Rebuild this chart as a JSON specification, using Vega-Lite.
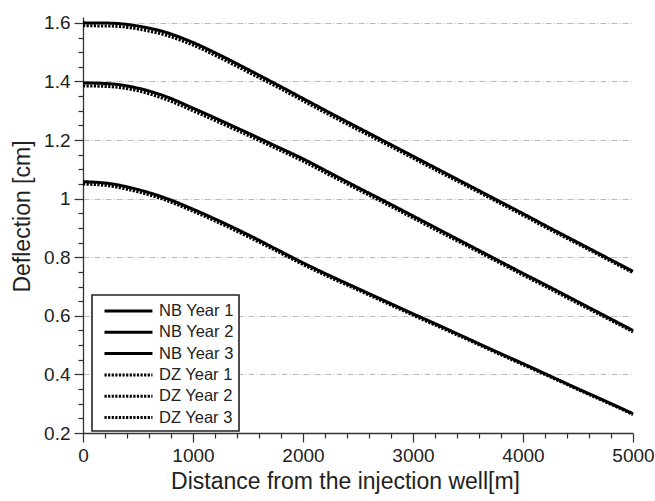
{
  "$schema": "https://vega.github.io/schema/vega-lite/v6.json",
  "autosize": {"type": "none"},
  "width": 550,
  "height": 416,
  "padding": {"left": 83, "top": 17, "right": 22, "bottom": 68},
  "background": "white",
  "config": {"view": {"stroke": null}, "font": "Liberation Sans", "legend": {"strokeColor": "#222", "strokeWidth": 1.6}},
  "data": {"values": [
    {"x":0,"y":1.600,"s":"NB Year 1"},{"x":250,"y":1.599,"s":"NB Year 1"},{"x":500,"y":1.589,"s":"NB Year 1"},{"x":750,"y":1.568,"s":"NB Year 1"},{"x":1000,"y":1.533,"s":"NB Year 1"},{"x":1250,"y":1.489,"s":"NB Year 1"},{"x":1500,"y":1.441,"s":"NB Year 1"},{"x":1750,"y":1.392,"s":"NB Year 1"},{"x":2000,"y":1.342,"s":"NB Year 1"},{"x":2250,"y":1.292,"s":"NB Year 1"},{"x":2500,"y":1.243,"s":"NB Year 1"},{"x":2750,"y":1.194,"s":"NB Year 1"},{"x":3000,"y":1.145,"s":"NB Year 1"},{"x":3250,"y":1.096,"s":"NB Year 1"},{"x":3500,"y":1.047,"s":"NB Year 1"},{"x":3750,"y":0.998,"s":"NB Year 1"},{"x":4000,"y":0.949,"s":"NB Year 1"},{"x":4250,"y":0.899,"s":"NB Year 1"},{"x":4500,"y":0.850,"s":"NB Year 1"},{"x":4750,"y":0.801,"s":"NB Year 1"},{"x":5000,"y":0.752,"s":"NB Year 1"},
    {"x":0,"y":1.395,"s":"NB Year 2"},{"x":250,"y":1.392,"s":"NB Year 2"},{"x":500,"y":1.377,"s":"NB Year 2"},{"x":750,"y":1.349,"s":"NB Year 2"},{"x":1000,"y":1.309,"s":"NB Year 2"},{"x":1250,"y":1.267,"s":"NB Year 2"},{"x":1500,"y":1.224,"s":"NB Year 2"},{"x":1750,"y":1.180,"s":"NB Year 2"},{"x":2000,"y":1.136,"s":"NB Year 2"},{"x":2250,"y":1.087,"s":"NB Year 2"},{"x":2500,"y":1.038,"s":"NB Year 2"},{"x":2750,"y":0.990,"s":"NB Year 2"},{"x":3000,"y":0.941,"s":"NB Year 2"},{"x":3250,"y":0.892,"s":"NB Year 2"},{"x":3500,"y":0.843,"s":"NB Year 2"},{"x":3750,"y":0.794,"s":"NB Year 2"},{"x":4000,"y":0.745,"s":"NB Year 2"},{"x":4250,"y":0.697,"s":"NB Year 2"},{"x":4500,"y":0.648,"s":"NB Year 2"},{"x":4750,"y":0.599,"s":"NB Year 2"},{"x":5000,"y":0.550,"s":"NB Year 2"},
    {"x":0,"y":1.058,"s":"NB Year 3"},{"x":250,"y":1.051,"s":"NB Year 3"},{"x":500,"y":1.031,"s":"NB Year 3"},{"x":750,"y":1.002,"s":"NB Year 3"},{"x":1000,"y":0.964,"s":"NB Year 3"},{"x":1250,"y":0.922,"s":"NB Year 3"},{"x":1500,"y":0.877,"s":"NB Year 3"},{"x":1750,"y":0.829,"s":"NB Year 3"},{"x":2000,"y":0.781,"s":"NB Year 3"},{"x":2250,"y":0.736,"s":"NB Year 3"},{"x":2500,"y":0.693,"s":"NB Year 3"},{"x":2750,"y":0.650,"s":"NB Year 3"},{"x":3000,"y":0.607,"s":"NB Year 3"},{"x":3250,"y":0.565,"s":"NB Year 3"},{"x":3500,"y":0.522,"s":"NB Year 3"},{"x":3750,"y":0.479,"s":"NB Year 3"},{"x":4000,"y":0.437,"s":"NB Year 3"},{"x":4250,"y":0.394,"s":"NB Year 3"},{"x":4500,"y":0.351,"s":"NB Year 3"},{"x":4750,"y":0.309,"s":"NB Year 3"},{"x":5000,"y":0.266,"s":"NB Year 3"},
    {"x":0,"y":1.590,"s":"DZ Year 1"},{"x":250,"y":1.589,"s":"DZ Year 1"},{"x":500,"y":1.579,"s":"DZ Year 1"},{"x":750,"y":1.558,"s":"DZ Year 1"},{"x":1000,"y":1.524,"s":"DZ Year 1"},{"x":1250,"y":1.480,"s":"DZ Year 1"},{"x":1500,"y":1.432,"s":"DZ Year 1"},{"x":1750,"y":1.384,"s":"DZ Year 1"},{"x":2000,"y":1.334,"s":"DZ Year 1"},{"x":2250,"y":1.284,"s":"DZ Year 1"},{"x":2500,"y":1.235,"s":"DZ Year 1"},{"x":2750,"y":1.187,"s":"DZ Year 1"},{"x":3000,"y":1.138,"s":"DZ Year 1"},{"x":3250,"y":1.089,"s":"DZ Year 1"},{"x":3500,"y":1.041,"s":"DZ Year 1"},{"x":3750,"y":0.992,"s":"DZ Year 1"},{"x":4000,"y":0.943,"s":"DZ Year 1"},{"x":4250,"y":0.893,"s":"DZ Year 1"},{"x":4500,"y":0.845,"s":"DZ Year 1"},{"x":4750,"y":0.796,"s":"DZ Year 1"},{"x":5000,"y":0.747,"s":"DZ Year 1"},
    {"x":0,"y":1.385,"s":"DZ Year 2"},{"x":250,"y":1.382,"s":"DZ Year 2"},{"x":500,"y":1.368,"s":"DZ Year 2"},{"x":750,"y":1.339,"s":"DZ Year 2"},{"x":1000,"y":1.300,"s":"DZ Year 2"},{"x":1250,"y":1.258,"s":"DZ Year 2"},{"x":1500,"y":1.216,"s":"DZ Year 2"},{"x":1750,"y":1.172,"s":"DZ Year 2"},{"x":2000,"y":1.128,"s":"DZ Year 2"},{"x":2250,"y":1.079,"s":"DZ Year 2"},{"x":2500,"y":1.031,"s":"DZ Year 2"},{"x":2750,"y":0.983,"s":"DZ Year 2"},{"x":3000,"y":0.934,"s":"DZ Year 2"},{"x":3250,"y":0.885,"s":"DZ Year 2"},{"x":3500,"y":0.837,"s":"DZ Year 2"},{"x":3750,"y":0.788,"s":"DZ Year 2"},{"x":4000,"y":0.739,"s":"DZ Year 2"},{"x":4250,"y":0.691,"s":"DZ Year 2"},{"x":4500,"y":0.642,"s":"DZ Year 2"},{"x":4750,"y":0.594,"s":"DZ Year 2"},{"x":5000,"y":0.545,"s":"DZ Year 2"},
    {"x":0,"y":1.050,"s":"DZ Year 3"},{"x":250,"y":1.043,"s":"DZ Year 3"},{"x":500,"y":1.023,"s":"DZ Year 3"},{"x":750,"y":0.995,"s":"DZ Year 3"},{"x":1000,"y":0.957,"s":"DZ Year 3"},{"x":1250,"y":0.915,"s":"DZ Year 3"},{"x":1500,"y":0.870,"s":"DZ Year 3"},{"x":1750,"y":0.823,"s":"DZ Year 3"},{"x":2000,"y":0.775,"s":"DZ Year 3"},{"x":2250,"y":0.730,"s":"DZ Year 3"},{"x":2500,"y":0.688,"s":"DZ Year 3"},{"x":2750,"y":0.645,"s":"DZ Year 3"},{"x":3000,"y":0.602,"s":"DZ Year 3"},{"x":3250,"y":0.560,"s":"DZ Year 3"},{"x":3500,"y":0.518,"s":"DZ Year 3"},{"x":3750,"y":0.475,"s":"DZ Year 3"},{"x":4000,"y":0.433,"s":"DZ Year 3"},{"x":4250,"y":0.391,"s":"DZ Year 3"},{"x":4500,"y":0.348,"s":"DZ Year 3"},{"x":4750,"y":0.306,"s":"DZ Year 3"},{"x":5000,"y":0.263,"s":"DZ Year 3"}
  ]},
  "mark": {"type": "line", "interpolate": "monotone", "strokeWidth": 3},
  "encoding": {
    "x": {"field": "x", "type": "quantitative",
      "scale": {"domain": [0, 5000], "nice": false, "zero": false},
      "axis": {
        "title": "Distance from the injection well[m]",
        "titleFont": "Liberation Sans", "titleFontSize": 23, "titleFontWeight": "normal", "titleColor": "#222", "titlePadding": 5, "titleX": 262,
        "values": [0,200,400,600,800,1000,1200,1400,1600,1800,2000,2200,2400,2600,2800,3000,3200,3400,3600,3800,4000,4200,4400,4600,4800,5000],
        "labelExpr": "datum.value % 1000 === 0 ? datum.label : ''",
        "format": "d",
        "labelOverlap": false, "labelFlush": false,
        "labelFont": "Liberation Sans", "labelFontSize": 19, "labelColor": "#222", "labelPadding": 4,
        "tickSize": {"condition": {"test": "datum.value % 1000 === 0", "value": 9}, "value": 5},
        "tickColor": "#333", "tickWidth": 1.25,
        "domainColor": "#333", "domainWidth": 1.3,
        "grid": false
      }
    },
    "y": {"field": "y", "type": "quantitative",
      "scale": {"domain": [0.2, 1.62], "nice": false, "zero": false},
      "axis": {
        "title": "Deflection [cm]",
        "titleFont": "Liberation Sans", "titleFontSize": 23, "titleFontWeight": "normal", "titleColor": "#222", "titleX": -49, "titleY": 199,
        "values": [0.2,0.25,0.3,0.35,0.4,0.45,0.5,0.55,0.6,0.65,0.7,0.75,0.8,0.85,0.9,0.95,1.0,1.05,1.1,1.15,1.2,1.25,1.3,1.35,1.4,1.45,1.5,1.55,1.6],
        "labelExpr": "round(datum.value*100) % 20 === 0 ? format(datum.value, '.1~f') : ''",
        "labelOverlap": false, "labelFlush": false,
        "labelFont": "Liberation Sans", "labelFontSize": 19, "labelColor": "#222", "labelPadding": 4,
        "tickSize": {"condition": {"test": "round(datum.value*100) % 20 === 0", "value": 9}, "value": 5},
        "tickColor": "#333", "tickWidth": 1.25,
        "domainColor": "#333", "domainWidth": 1.3,
        "grid": true,
        "gridColor": "#bbbbbb", "gridWidth": 1, "gridDash": [6, 2, 1, 2],
        "gridOpacity": {"condition": {"test": "round(datum.value*100) % 20 === 0 && datum.value > 0.3", "value": 1}, "value": 0}
      }
    },
    "color": {"field": "s", "type": "nominal",
      "scale": {"domain": ["NB Year 1","NB Year 2","NB Year 3","DZ Year 1","DZ Year 2","DZ Year 3"], "range": ["#000","#000","#000","#000","#000","#000"]},
      "legend": {
        "title": null, "orient": "none", "legendX": 9, "legendY": 278,
        "symbolType": "M-0.37,0H4.68", "symbolSize": 361, "symbolStrokeWidth": 3, "symbolFillColor": "transparent",
        "labelFont": "Liberation Sans", "labelFontSize": 16.5, "labelColor": "#222", "labelOffset": 40,
        "rowPadding": 1.3, "padding": 5,
        "fillColor": "white"
      }
    },
    "strokeDash": {"field": "s", "type": "nominal",
      "scale": {"domain": ["NB Year 1","NB Year 2","NB Year 3","DZ Year 1","DZ Year 2","DZ Year 3"], "range": [[1,0],[1,0],[1,0],[2.2,1.4],[2.2,1.4],[2.2,1.4]]}
    }
  }
}
